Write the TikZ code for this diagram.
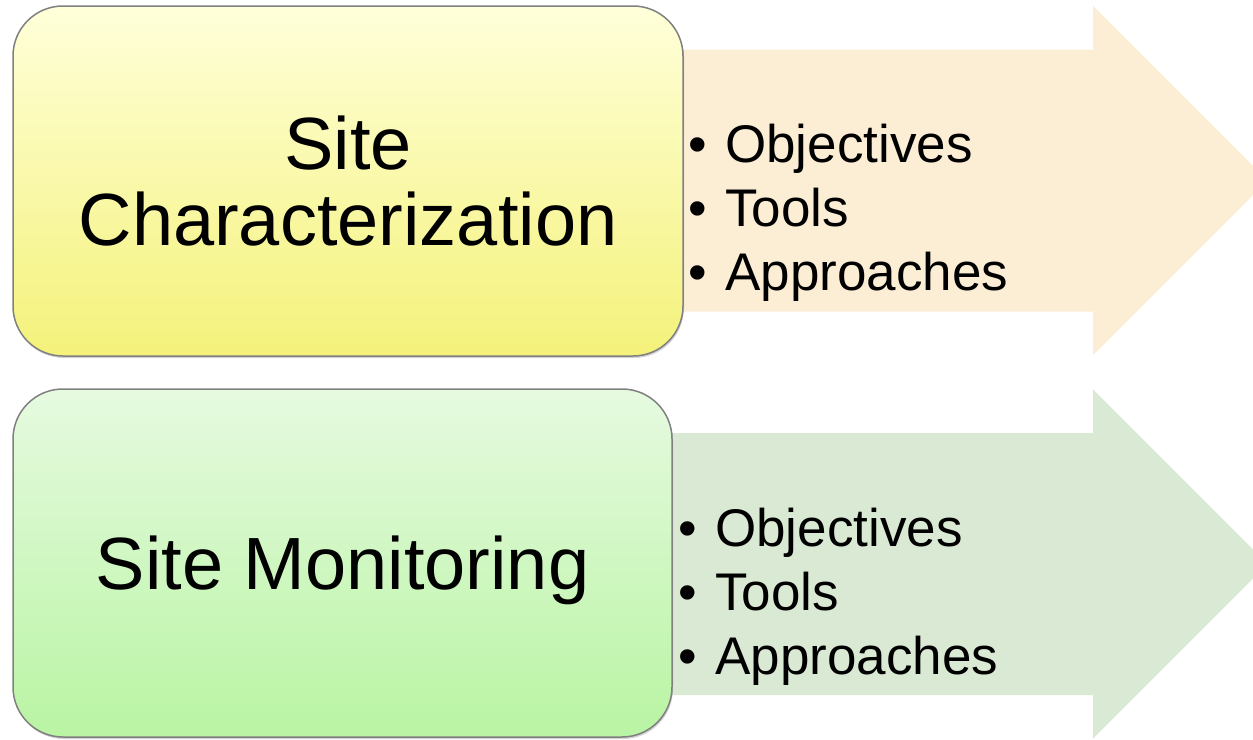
\documentclass[tikz,border=0pt]{standalone}
\usepackage{fontspec}
\setmainfont{Liberation Sans}
\usetikzlibrary{shadows}
\definecolor{peach}{HTML}{FCEDD5}
\definecolor{sage}{HTML}{D9E9D3}
\definecolor{lemontop}{HTML}{FFFFDA}
\definecolor{lemonbot}{HTML}{F4F27A}
\definecolor{minttop}{HTML}{E6FAE0}
\definecolor{mintbot}{HTML}{B9F4A3}
\definecolor{rim}{HTML}{808080}
\newcommand{\banner}[2]{\fill[#1] (640,#2) ++(0,-131) -- ++(453,0) -- ++(0,-43.5) -- ++(174.5,174.5) -- ++(-174.5,174.5) -- ++(0,-43.5) -- ++(-453,0) -- cycle}
\newcommand{\pt}[1]{\makebox[37pt][l]{\textbullet}#1}

\begin{document}
\begin{tikzpicture}[x=1pt,y=-1pt,
    stagebox/.style={rounded corners=50pt, draw=rim, line width=1.5pt, inner sep=0pt,
      align=center, text depth=0pt, font=\fontsize{74}{76}\selectfont,
      drop shadow={shadow xshift=1pt, shadow yshift=-2pt, opacity=0.35}},
    bulletline/.style={anchor=base west, inner sep=0pt, font=\fontsize{53}{64}\selectfont}]
    \path[use as bounding box, clip] (0,0) rectangle (1253,739);

    \banner{peach}{180.5};
    \banner{sage}{564};

    \node[stagebox, top color=lemontop, bottom color=lemonbot,
      minimum width=670pt, minimum height=350pt] (charbox) at (348,181) {Site\\Characterization};
    \node[stagebox, top color=minttop, bottom color=mintbot,
      minimum width=659pt, minimum height=348pt] (monbox) at (342.5,563) {Site Monitoring};

    \node[bulletline] (c1) at (688,162) {\pt{Objectives}};
    \node[bulletline] (c2) at (688,226) {\pt{Tools}};
    \node[bulletline] (c3) at (688,290) {\pt{Approaches}};

    \node[bulletline] (m1) at (678,546) {\pt{Objectives}};
    \node[bulletline] (m2) at (678,610) {\pt{Tools}};
    \node[bulletline] (m3) at (678,674) {\pt{Approaches}};
  \end{tikzpicture}
\end{document}
